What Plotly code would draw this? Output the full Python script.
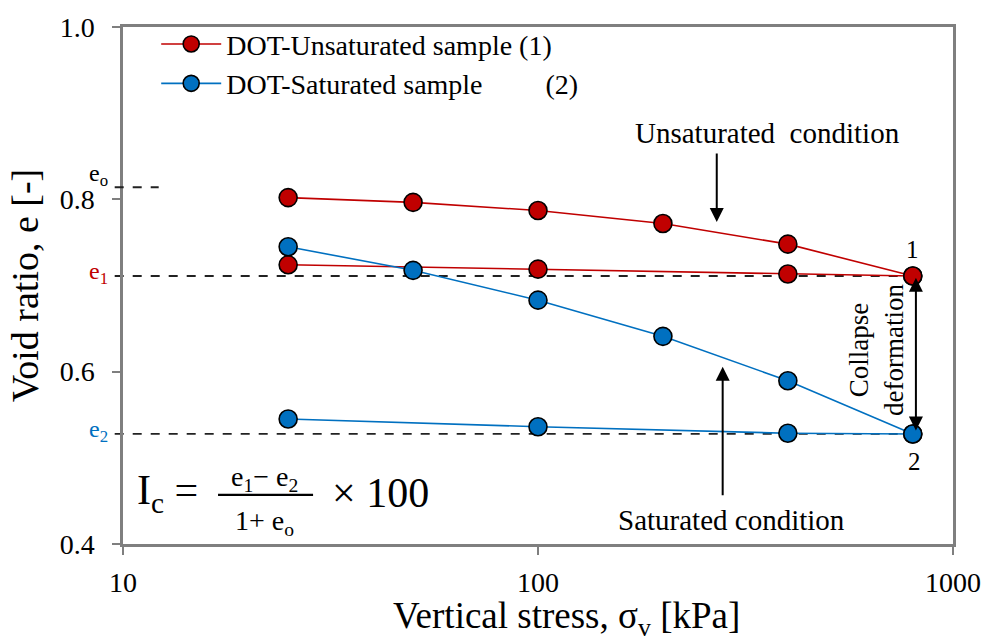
import numpy as np
import plotly.graph_objects as go

# ---- data ----
stress_unsat_load = [25, 50, 100, 200, 400, 800]
e_unsat_load = [0.802, 0.7965, 0.787, 0.772, 0.748, 0.711]
stress_unsat_unload = [25, 100, 400, 800]
e_unsat_unload = [0.724, 0.719, 0.7133, 0.711]

stress_sat_load = [25, 50, 100, 200, 400, 800]
e_sat_load = [0.745, 0.7176, 0.683, 0.641, 0.5895, 0.5277]
stress_sat_unload = [25, 100, 400, 800]
e_sat_unload = [0.5451, 0.5361, 0.5285, 0.5277]

e_o = 0.814
e_1 = 0.711
e_2 = 0.5277

x_ticks = [10, 100, 1000]
y_ticks = [0.4, 0.6, 0.8, 1.0]

RED = "#C00000"
BLUE = "#0070C0"
FONT = "Liberation Serif"

fig = go.Figure()

def add_series(x, y, color, name, show):
    fig.add_trace(go.Scatter(
        x=x, y=y, mode="lines+markers", name=name, showlegend=show,
        line=dict(color=color, width=1.6),
        marker=dict(symbol="circle", size=18, color=color,
                    line=dict(color="black", width=1.6)),
    ))

add_series(stress_unsat_load, e_unsat_load, RED, "DOT-Unsaturated sample (1)", True)
add_series(stress_unsat_unload, e_unsat_unload, RED, "", False)
add_series(stress_sat_load, e_sat_load, BLUE,
           "DOT-Saturated sample\u00a0\u00a0\u00a0\u00a0\u00a0\u00a0\u00a0\u00a0\u00a0(2)", True)
add_series(stress_sat_unload, e_sat_unload, BLUE, "", False)

def px(v):
    return (np.log10(v) - 1) / 2.0

shapes = []
dash = dict(color="#222222", width=1.8, dash="dash")
shapes.append(dict(type="line", xref="paper", yref="y", x0=-0.01, x1=0.043,
                   y0=e_o, y1=e_o, line=dash))
shapes.append(dict(type="line", xref="paper", yref="y", x0=-0.01, x1=px(800),
                   y0=e_1, y1=e_1, line=dash, layer="below"))
shapes.append(dict(type="line", xref="paper", yref="y", x0=-0.01, x1=px(800),
                   y0=e_2, y1=e_2, line=dash, layer="below"))
# fraction bar
shapes.append(dict(type="line", xref="paper", yref="y", x0=0.1145, x1=0.229,
                   y0=0.457, y1=0.457, line=dict(color="black", width=2.2)))

ann = []
def text(x, y, s, size=24, color="black", xref="paper", yref="y", xanchor="center", **kw):
    ann.append(dict(x=x, y=y, xref=xref, yref=yref, text=s, showarrow=False,
                    xanchor=xanchor, yanchor="middle",
                    font=dict(family=FONT, size=size, color=color), **kw))

text(-0.016, 0.828, "e<sub>o</sub>", size=24, xanchor="right")
text(-0.016, 0.714, "e<sub>1</sub>", size=24, color=RED, xanchor="right")
text(-0.016, 0.531, "e<sub>2</sub>", size=24, color=BLUE, xanchor="right")
text(0.777, 0.877, "Unsaturated\u00a0 condition", size=29)
text(0.733, 0.428, "Saturated condition", size=29)
text(px(800), 0.7414, "1", size=25)
text(px(800.0) + 0.002, 0.4952, "2", size=25)
text(0.907, 0.625, "Collapse<br>deformation", size=27, textangle=-90)

# formula
text(0.0145, 0.459, "I<sub>c</sub> =", size=42, xanchor="left")
text(0.171, 0.4766, "e<sub>1</sub>\u2212 e<sub>2</sub>", size=28)
text(0.171, 0.4255, "1+ e<sub>o</sub>", size=28)
text(0.249, 0.459, "\u00d7 100", size=42, xanchor="left")

# x axis title (placed as annotation below the tick labels)
text(0.534, -0.144, "Vertical stress, \u03c3<sub>v</sub> [kPa]", size=37, yref="paper")

# arrows
arrow = dict(showarrow=True, arrowhead=2, arrowsize=1.4, arrowwidth=2,
             arrowcolor="black", text="", xref="x", yref="y", axref="x", ayref="y",
             standoff=0)
ann.append(dict(x=np.log10(269.6), y=0.7737, ax=np.log10(269.6), ay=0.855, **arrow))
ann.append(dict(x=np.log10(278.6), y=0.6058, ax=np.log10(278.6), ay=0.4549, **arrow))
ann.append(dict(x=np.log10(814), y=0.709, ax=np.log10(814), ay=0.530,
                arrowside="end+start", startarrowhead=2, startarrowsize=1.4, **arrow))

fig.update_layout(
    width=990, height=641,
    margin=dict(l=123, r=37, t=27, b=97, autoexpand=False),
    plot_bgcolor="white", paper_bgcolor="white",
    font=dict(family=FONT, size=24, color="black"),
    shapes=shapes, annotations=ann,
    legend=dict(x=0.04, y=1.015, xanchor="left", yanchor="top",
                bgcolor="rgba(0,0,0,0)", font=dict(size=28, family=FONT),
                itemwidth=60, tracegroupgap=0),
    showlegend=True,
)
fig.update_xaxes(type="log", range=[1, 3], tickvals=x_ticks,
                 ticktext=[str(v) for v in x_ticks], automargin=False,
                 showline=True, linecolor="#7f7f7f", linewidth=2.5, mirror=True,
                 ticks="outside", ticklen=8, tickcolor="#7f7f7f", tickwidth=1.5,
                 showgrid=False, zeroline=False, ticklabelstandoff=4,
                 tickfont=dict(size=28))
fig.update_yaxes(range=[0.4, 1.0], tickvals=y_ticks,
                 ticktext=["%.1f" % v for v in y_ticks], automargin=False,
                 showline=True, linecolor="#7f7f7f", linewidth=2.5, mirror=True,
                 ticks="outside", ticklen=8, tickcolor="#7f7f7f", tickwidth=1.5,
                 showgrid=False, zeroline=False, ticklabelstandoff=12,
                 tickfont=dict(size=28),
                 title=dict(text="Void ratio, e [-]", font=dict(size=38), standoff=10))

fig.write_html("out.html", config={"displayModeBar": False},
               post_script="document.body.style.margin='0';document.body.style.overflow='hidden';")
